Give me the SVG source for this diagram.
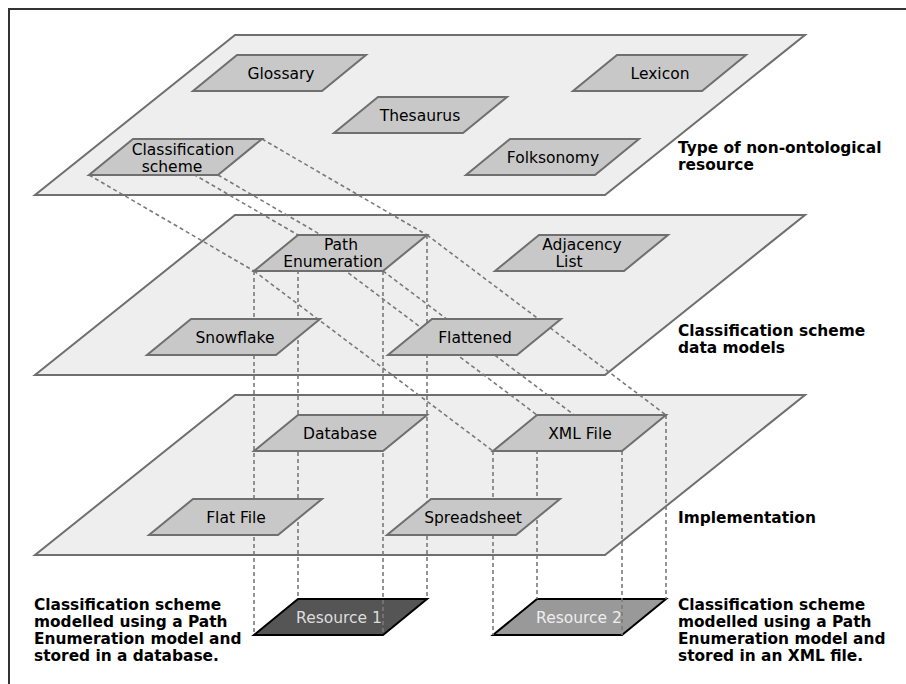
<svg xmlns="http://www.w3.org/2000/svg" width="906" height="684" viewBox="0 0 906 684">
<defs>
<style>
.frame{fill:#ffffff;stroke:#333333;stroke-width:2}
.plane{fill:#eeeeee;stroke:#6f6f6f;stroke-width:2}
.node{fill:#c8c8c8;stroke:#6f6f6f;stroke-width:2}
.res1{fill:#555555;stroke:#000000;stroke-width:2}
.res2{fill:#999999;stroke:#000000;stroke-width:2}
.dash{fill:none;stroke:#7a7a7a;stroke-width:1.6;stroke-dasharray:4,3}
.t{font-family:"DejaVu Sans","Liberation Sans",sans-serif;font-size:15.5px;fill:#000000;text-anchor:middle}
.rt{font-family:"DejaVu Sans","Liberation Sans",sans-serif;font-size:15.5px;text-anchor:middle}
.lbl{font-family:"DejaVu Sans","Liberation Sans",sans-serif;font-size:15.4px;font-weight:bold;fill:#000000}
</style>
</defs>
<rect class="frame" x="9" y="9" width="910" height="690"/>

<g id="planes">
<polygon id="plane-resources" class="plane" points="235,35 805,35 605,195 35,195"/>
<polygon id="plane-models" class="plane" points="235,215 805,215 605,375 35,375"/>
<polygon id="plane-implementation" class="plane" points="235,395 805,395 605,555 35,555"/>
</g>

<g id="resource1">
<polygon class="res1" points="298,599 427,599 383,635 254,635"/>
<text class="rt" x="339" y="622.5" fill="#dddddd">Resource 1</text>
</g>
<g id="resource2">
<polygon class="res2" points="537,599 666,599 622,635 493,635"/>
<text class="rt" x="579" y="622.5" fill="#eeeeee">Resource 2</text>
</g>

<g id="connectors">
<line class="dash" x1="133" y1="139" x2="298" y2="235"/>
<line class="dash" x1="262" y1="139" x2="427" y2="235"/>
<line class="dash" x1="218" y1="175" x2="383" y2="271"/>
<line class="dash" x1="89" y1="175" x2="254" y2="271"/>
<line class="dash" x1="298" y1="235" x2="537" y2="415"/>
<line class="dash" x1="427" y1="235" x2="666" y2="415"/>
<line class="dash" x1="383" y1="271" x2="622" y2="451"/>
<line class="dash" x1="254" y1="271" x2="493" y2="451"/>
<line class="dash" x1="254" y1="271" x2="254" y2="635"/>
<line class="dash" x1="298" y1="235" x2="298" y2="599"/>
<line class="dash" x1="383" y1="271" x2="383" y2="635"/>
<line class="dash" x1="427" y1="235" x2="427" y2="599"/>
<line class="dash" x1="493" y1="451" x2="493" y2="635"/>
<line class="dash" x1="537" y1="415" x2="537" y2="599"/>
<line class="dash" x1="622" y1="451" x2="622" y2="635"/>
<line class="dash" x1="666" y1="415" x2="666" y2="599"/>
</g>

<g id="glossary">
<polygon class="node" points="237,55 366,55 322,91 193,91"/>
<text class="t" x="281" y="78.5">Glossary</text>
</g>
<g id="lexicon">
<polygon class="node" points="617,55 746,55 702,91 573,91"/>
<text class="t" x="660" y="78.5">Lexicon</text>
</g>
<g id="thesaurus">
<polygon class="node" points="378,97 507,97 463,133 334,133"/>
<text class="t" x="420" y="120.5">Thesaurus</text>
</g>
<g id="classification-scheme">
<polygon class="node" points="133,139 262,139 218,175 89,175"/>
<text class="t" x="183" y="155">Classification</text>
<text class="t" x="172" y="171.5">scheme</text>
</g>
<g id="folksonomy">
<polygon class="node" points="510,139 639,139 595,175 466,175"/>
<text class="t" x="553" y="162.5">Folksonomy</text>
</g>

<g id="path-enumeration">
<polygon class="node" points="298,235 427,235 383,271 254,271"/>
<text class="t" x="341" y="250">Path</text>
<text class="t" x="333" y="267">Enumeration</text>
</g>
<g id="adjacency-list">
<polygon class="node" points="539,235 668,235 624,271 495,271"/>
<text class="t" x="582" y="250">Adjacency</text>
<text class="t" x="569" y="267">List</text>
</g>
<g id="snowflake">
<polygon class="node" points="191,319 320,319 276,355 147,355"/>
<text class="t" x="235" y="342.5">Snowflake</text>
</g>
<g id="flattened">
<polygon class="node" points="432,319 561,319 517,355 388,355"/>
<text class="t" x="475" y="342.5">Flattened</text>
</g>

<g id="database">
<polygon class="node" points="298,415 427,415 383,451 254,451"/>
<text class="t" x="340" y="438.5">Database</text>
</g>
<g id="xml-file">
<polygon class="node" points="537,415 666,415 622,451 493,451"/>
<text class="t" x="580" y="438.5">XML File</text>
</g>
<g id="flat-file">
<polygon class="node" points="193,499 322,499 278,535 149,535"/>
<text class="t" x="236" y="522.5">Flat File</text>
</g>
<g id="spreadsheet">
<polygon class="node" points="431,499 560,499 516,535 387,535"/>
<text class="t" x="473" y="522.5">Spreadsheet</text>
</g>

<g id="labels">
<text class="lbl" x="678" y="152.5">Type of non-ontological</text>
<text class="lbl" x="678" y="170">resource</text>
<text class="lbl" x="678" y="335.5">Classification scheme</text>
<text class="lbl" x="678" y="353">data models</text>
<text class="lbl" x="678" y="523">Implementation</text>
<text class="lbl" x="34" y="609.5">Classification scheme</text>
<text class="lbl" x="34" y="626.5">modelled using a Path</text>
<text class="lbl" x="34" y="643.5">Enumeration model and</text>
<text class="lbl" x="34" y="660.5">stored in a database.</text>
<text class="lbl" x="678" y="609.5">Classification scheme</text>
<text class="lbl" x="678" y="626.5">modelled using a Path</text>
<text class="lbl" x="678" y="643.5">Enumeration model and</text>
<text class="lbl" x="678" y="660.5">stored in an XML file.</text>
</g>
</svg>
